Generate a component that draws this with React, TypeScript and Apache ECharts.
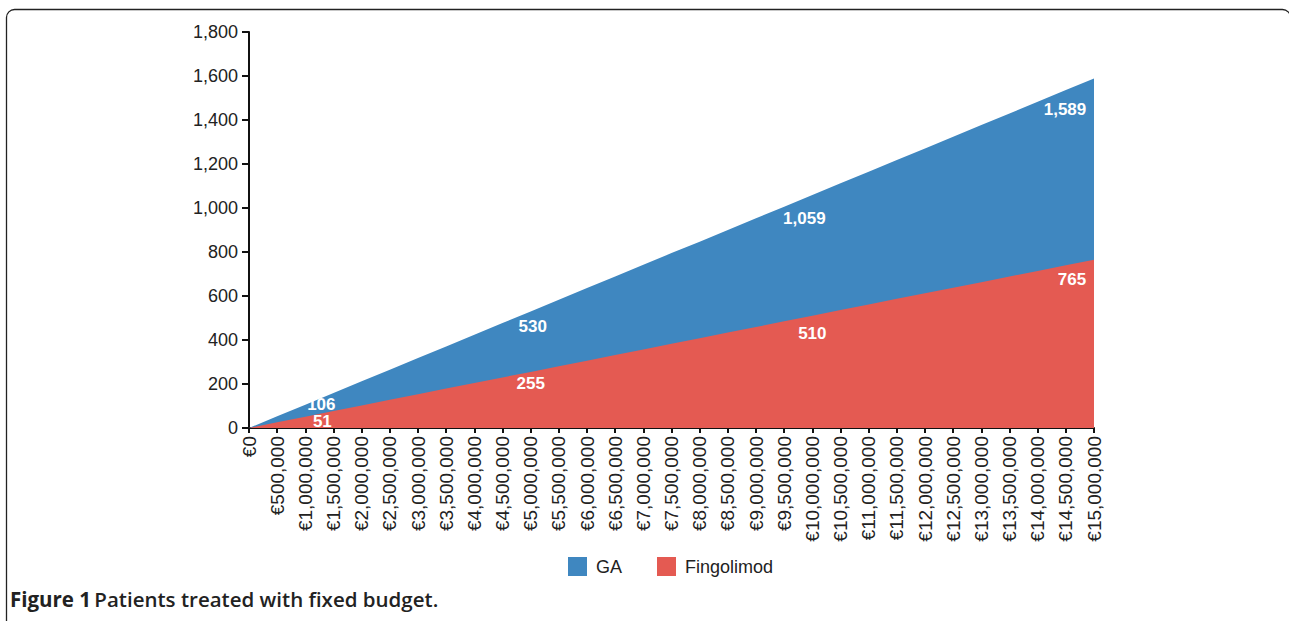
import React, { useEffect, useRef } from "react";
import * as echarts from "echarts";

const categories = [
  "€0", "€500,000", "€1,000,000", "€1,500,000", "€2,000,000", "€2,500,000",
  "€3,000,000", "€3,500,000", "€4,000,000", "€4,500,000", "€5,000,000",
  "€5,500,000", "€6,000,000", "€6,500,000", "€7,000,000", "€7,500,000",
  "€8,000,000", "€8,500,000", "€9,000,000", "€9,500,000", "€10,000,000",
  "€10,500,000", "€11,000,000", "€11,500,000", "€12,000,000", "€12,500,000",
  "€13,000,000", "€13,500,000", "€14,000,000", "€14,500,000", "€15,000,000",
];

const gaValues = [
  0, 53, 106, 159, 212, 265, 318, 371, 424, 477, 530, 583, 636, 689, 742, 795,
  847, 900, 953, 1006, 1059, 1112, 1165, 1218, 1271, 1324, 1377, 1430, 1483,
  1536, 1589,
];

const fingolimodValues = [
  0, 26, 51, 77, 102, 128, 153, 179, 204, 230, 255, 281, 306, 332, 357, 383,
  408, 434, 459, 485, 510, 536, 561, 587, 612, 638, 663, 689, 714, 740, 765,
];

const labelledIndices = [2, 10, 20, 30];
const gaLabelOffsets = [[16, 0], [2, 15], [-8, 23], [-29, 31]];
const fLabelOffsets = [[17, 5], [0, 12], [0, 18], [-22, 20]];

const BLUE = "#3F87C0";
const RED = "#E45A52";
const FONT = "Liberation Sans";

function buildData(values: number[], offsets: number[][]) {
  return values.map((v, i) => {
    const k = labelledIndices.indexOf(i);
    if (k < 0) return v;
    return {
      value: v,
      label: {
        show: true,
        position: "inside",
        offset: offsets[k],
        formatter: (p: any) => Number(p.value).toLocaleString("en-US"),
        color: "#ffffff",
        fontWeight: "bold",
        fontSize: 17,
        fontFamily: FONT,
      },
    };
  });
}

export default function App() {
  const ref = useRef<HTMLDivElement>(null);
  useEffect(() => {
    document.body.style.margin = "0";
    const chart = echarts.init(ref.current!, null, { renderer: "svg" });
    chart.setOption({
      animation: false,
      backgroundColor: "#ffffff",
      grid: { left: 249, right: 195, top: 32, bottom: 193, containLabel: false },
      legend: {
        left: 568,
        top: 557,
        padding: 0,
        itemWidth: 19,
        itemHeight: 19,
        itemGap: 35,
        icon: "rect",
        textStyle: { fontSize: 18, color: "#222", fontFamily: FONT, padding: [0, 0, 0, 4] },
        data: ["GA", "Fingolimod"],
      },
      xAxis: {
        type: "category",
        data: categories,
        boundaryGap: false,
        axisLine: { lineStyle: { color: "#111", width: 2 } },
        axisTick: { show: true, alignWithLabel: true, length: 5, lineStyle: { color: "#111", width: 2 } },
        axisLabel: { interval: 0, rotate: 90, fontSize: 19, color: "#222", fontFamily: FONT, margin: 8 },
        splitLine: { show: false },
      },
      yAxis: {
        type: "value",
        min: 0,
        max: 1800,
        interval: 200,
        axisLine: { show: true, lineStyle: { color: "#111", width: 2 } },
        axisTick: { show: true, length: 7, lineStyle: { color: "#111", width: 2 } },
        axisLabel: {
          fontSize: 18,
          color: "#222",
          fontFamily: FONT,
          margin: 11,
          formatter: (v: number) => v.toLocaleString("en-US"),
        },
        splitLine: { show: false },
      },
      series: [
        {
          name: "GA",
          type: "line",
          data: buildData(gaValues, gaLabelOffsets),
          symbol: "circle",
          symbolSize: 0,
          showSymbol: true,
          itemStyle: { color: BLUE },
          lineStyle: { width: 0, color: BLUE },
          areaStyle: { color: BLUE, opacity: 1 },
          z: 1,
        },
        {
          name: "Fingolimod",
          type: "line",
          data: buildData(fingolimodValues, fLabelOffsets),
          symbol: "circle",
          symbolSize: 0,
          showSymbol: true,
          itemStyle: { color: RED },
          lineStyle: { width: 0, color: RED },
          areaStyle: { color: RED, opacity: 1 },
          z: 2,
        },
      ],
      graphic: [
        {
          type: "rect",
          shape: { x: 6.5, y: 9.5, width: 1284, height: 620, r: 8 },
          style: { fill: "none", stroke: "#222", lineWidth: 1.3 },
          silent: true,
          z: -1,
        },
        {
          type: "text",
          left: 10,
          top: 588,
          style: {
            text: "{b|Figure 1} {s|Patients treated with fixed budget.}",
            rich: {
              b: { fontFamily: "Open Sans", fontWeight: "bold", fontSize: 20.5, fill: "#222" },
              s: { fontFamily: "Open Sans", fontWeight: 600, fontSize: 20.5, fill: "#222" },
            },
          },
        },
      ],
    });
    return () => chart.dispose();
  }, []);
  return (
    <div
      ref={ref}
      style={{ position: "absolute", left: 0, top: 0, width: 1289, height: 621 }}
    />
  );
}
